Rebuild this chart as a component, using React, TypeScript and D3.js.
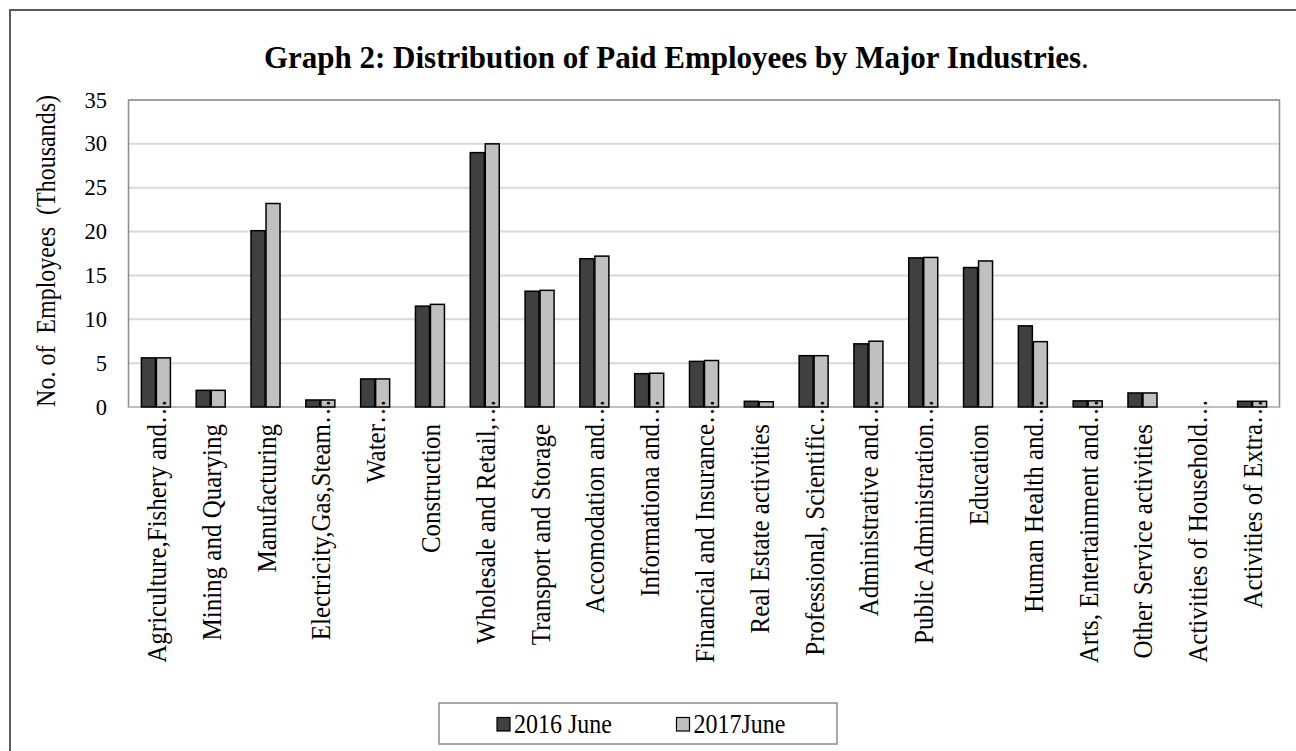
import React from "react";
import * as d3 from "d3";

const categories: string[] = [
  "Agriculture,Fishery and",
  "Mining and Quarying",
  "Manufacturing",
  "Electricity,Gas,Steam",
  "Water",
  "Construction",
  "Wholesale and Retail,",
  "Transport and Storage",
  "Accomodation and",
  "Informationa and",
  "Financial and Insurance",
  "Real Estate activities",
  "Professional, Scientific",
  "Administrative and",
  "Public Administration",
  "Education",
  "Human Health and",
  "Arts, Entertainment and",
  "Other Service activities",
  "Activities of Household",
  "Activities of Extra",
];
const truncated: boolean[] = [
  true, false, false, true, true, false, true, false, true, true, true,
  false, true, true, true, false, true, true, false, true, true,
];
const june2016: number[] = [
  5.6, 1.9, 20.1, 0.8, 3.2, 11.5, 29.0, 13.2, 16.9, 3.8, 5.2,
  0.65, 5.85, 7.2, 17.0, 15.9, 9.25, 0.7, 1.6, 0, 0.65,
];
const june2017: number[] = [
  5.6, 1.9, 23.2, 0.8, 3.2, 11.7, 30.0, 13.3, 17.2, 3.85, 5.3,
  0.6, 5.85, 7.5, 17.05, 16.65, 7.45, 0.7, 1.6, 0, 0.65,
];
const seriesNames: string[] = ["2016 June", "2017June"];
const yTicks: number[] = [0, 5, 10, 15, 20, 25, 30, 35];

const FONT = "'Liberation Serif', 'Times New Roman', serif";

export default function App() {
  const W = 1296;
  const H = 751;
  const plotL = 128.5, plotR = 1279.5, plotT = 100, plotB = 407;
  const y = d3.scaleLinear().domain([0, 35]).range([plotB, plotT]);
  const x = d3.scaleBand<string>().domain(categories).range([plotL, plotR]).padding(0);
  const bw = 14;
  const colors = ["#404040", "#c0c0c0"];

  return (
    <svg width={W} height={H} style={{ position: "absolute", left: 0, top: 0, background: "#fff" }}>
      <rect x={0} y={0} width={W} height={H} fill="#fff" />
      <rect x={10} y={10} width={1320} height={800} fill="none" stroke="#595959" strokeWidth={2} />
      <text transform="translate(264,68) scale(1,1.04)" fontFamily={FONT} fontSize={31} fontWeight="bold" fill="#000">
        Graph 2: Distribution of Paid Employees by Major Industries<tspan fontWeight="normal">.</tspan>
      </text>
      {/* gridlines */}
      {yTicks.map((t) => (
        <line key={"g" + t} x1={plotL} x2={plotR} y1={y(t)} y2={y(t)} stroke="#d9d9d9" strokeWidth={2} />
      ))}
      <rect x={plotL} y={plotT} width={plotR - plotL} height={plotB - plotT} fill="none" stroke="#8c8c8c" strokeWidth={1.5} />
      <line x1={plotL} x2={plotR} y1={plotB} y2={plotB} stroke="#bfbfbf" strokeWidth={2} />
      {/* y ticks */}
      {yTicks.map((t) => (
        <text key={"t" + t} transform={`translate(107,${y(t) + 7.5}) scale(1,1.05)`} textAnchor="end" fontFamily={FONT} fontSize={22.5} fill="#000">
          {t}
        </text>
      ))}
      <text
        transform={`translate(55,251) rotate(-90) scale(1,1.15)`}
        textAnchor="middle"
        fontFamily={FONT}
        fontSize={24}
        fill="#000"
        style={{ whiteSpace: "pre" }}
      >
        {"No. of  Employees  (Thousands)"}
      </text>
      {/* bars */}
      {categories.map((c, i) => {
        const cx = (x(c) as number) + x.bandwidth() / 2;
        const vals = [june2016[i], june2017[i]];
        return (
          <g key={"b" + i}>
            {vals.map((v, k) => {
              const x0 = k === 0 ? cx - 14.5 : cx + 0.5;
              const h = plotB - y(v);
              if (h <= 0) return null;
              return (
                <rect key={k} x={x0} y={y(v)} width={bw} height={h} fill={colors[k]} stroke="#000" strokeWidth={1.5} />
              );
            })}
          </g>
        );
      })}
      {/* category labels */}
      {categories.map((c, i) => {
        const cx = (x(c) as number) + x.bandwidth() / 2;
        const bx = cx + 10;
        return (
          <g key={"l" + i}>
            <text transform={`translate(${bx},424) rotate(-90) scale(1,1.13)`} textAnchor="end" fontFamily={FONT} fontSize={25} fill="#000">
              {c}
            </text>
            {truncated[i] && (
              <text transform={`translate(${bx},424) rotate(-90) scale(1,1.13)`} textAnchor="start" fontFamily={FONT} fontSize={25} fill="#000">
                {"…"}
              </text>
            )}
          </g>
        );
      })}
      {/* legend */}
      <rect x={439} y={703} width={398} height={41} fill="#fff" stroke="#8c8c8c" strokeWidth={1.5} />
      {seriesNames.map((s, k) => {
        const lx = k === 0 ? 497 : 676.5;
        return (
          <g key={"lg" + k}>
            <rect x={lx} y={717.5} width={13} height={13.5} fill={colors[k]} stroke="#000" strokeWidth={1.2} />
            <text transform={`translate(${lx + 17},733) scale(1,1.1)`} fontFamily={FONT} fontSize={24} fill="#000">
              {s}
            </text>
          </g>
        );
      })}
    </svg>
  );
}
